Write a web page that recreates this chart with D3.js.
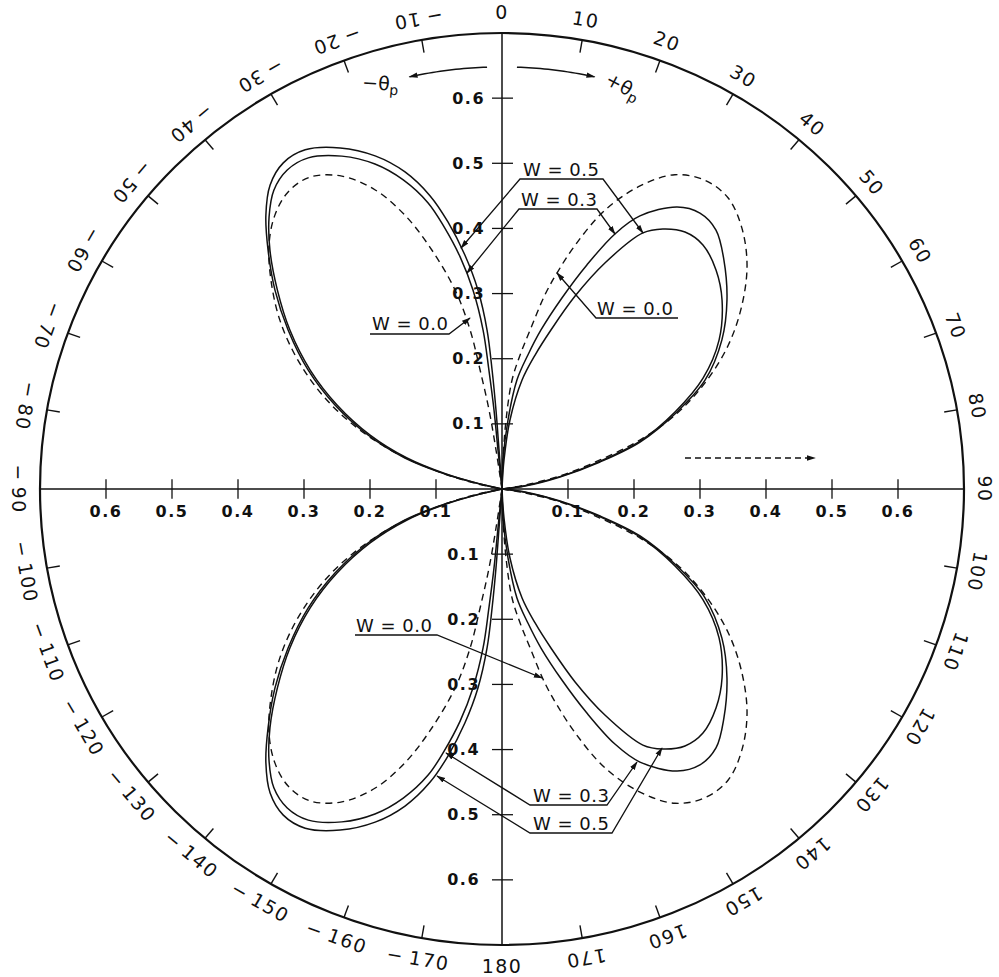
<!DOCTYPE html>
<html>
<head>
<meta charset="utf-8">
<script src="https://cdn.jsdelivr.net/npm/d3@7"></script>
<style>
  body { margin: 0; background: #fff; }
  text { font-family: "DejaVu Sans", sans-serif; fill: #111; }
</style>
</head>
<body>
<svg id="chart" width="999" height="977"></svg>
<script>
// Angular scale labels (degrees, clockwise from the top) and radial scale labels
const angleTicks = d3.range(-170, 190, 10);
const radialTicks = [0.1, 0.2, 0.3, 0.4, 0.5, 0.6];
const radialMax = 0.7;

// Lobes as [theta (deg), r] pairs; dashed = W 0.0, solid = W 0.3 and W 0.5
const upperLeftW00 = [[0,0],[-8.6,0.0605],[-9.2,0.1228],[-10.3,0.1857],[-11.2,0.2489],[-13.1,0.3137],[-16.4,0.3872],[-19.3,0.4455],[-22.7,0.4976],[-26.8,0.5381],[-31.3,0.5603],[-35.4,0.5594],[-39.3,0.5433],[-43.3,0.5148],[-47.5,0.4748],[-52.4,0.4248],[-57.4,0.3671],[-62.5,0.3023],[-67.2,0.2334],[-71.4,0.1631],[-74.9,0.0942],[-78.1,0.0372],[-84,0]];
const upperLeftW03 = [[0,0],[-5.8,0.0602],[-5.7,0.1218],[-6.2,0.1836],[-6.7,0.2457],[-8.2,0.3086],[-10.1,0.3619],[-12.3,0.4118],[-14.3,0.4532],[-17.5,0.4975],[-21.1,0.5347],[-25.4,0.5657],[-30,0.587],[-33.6,0.588],[-37,0.5744],[-40.2,0.5468],[-43.8,0.508],[-48.1,0.4572],[-52.8,0.4035],[-57.9,0.3428],[-62.7,0.2813],[-67.5,0.2163],[-71.7,0.1516],[-74.8,0.0878],[-77,0.0342],[-83,0]];
const upperLeftW05 = [[0,0],[-4.3,0.06],[-4.3,0.1216],[-4.7,0.1833],[-5.3,0.2451],[-6.8,0.3076],[-8.9,0.3636],[-11.3,0.418],[-13.6,0.4629],[-16.8,0.5084],[-20.6,0.5463],[-25.1,0.5781],[-29.8,0.6],[-33.5,0.6004],[-37,0.584],[-40.4,0.552],[-44,0.5103],[-48.4,0.46],[-53,0.4058],[-58.1,0.3461],[-63,0.284],[-67.8,0.2193],[-72.1,0.1545],[-75.1,0.0894],[-77,0.0342],[-83,0]];

const upperRightW00 = [[0,0],[1.9,0.0446],[3.3,0.1061],[5.2,0.168],[7.6,0.2075],[9.9,0.2477],[12.3,0.3049],[14.1,0.3418],[16.5,0.3905],[20,0.4553],[24.2,0.51],[28.5,0.549],[33,0.565],[37.5,0.563],[42.2,0.541],[47.2,0.506],[52.2,0.46],[57.2,0.408],[62.1,0.348],[66.6,0.286],[70.2,0.222],[73.3,0.155],[77.2,0.09],[80,0.0354],[90,0]];
const upperRightW03 = [[0,0],[1.9,0.0446],[4.9,0.1063],[7.7,0.1688],[10.8,0.2095],[13.6,0.2512],[17.2,0.307],[20.5,0.3672],[23.6,0.4273],[26.5,0.4684],[31.5,0.5077],[35.3,0.519],[39.2,0.513],[43.7,0.4866],[49.6,0.4476],[55.5,0.4043],[61.5,0.35],[66.1,0.2883],[71,0.2212],[74.4,0.1542],[78.1,0.0898],[82.6,0.0351],[90,0]];
const upperRightW05 = [[0,0],[3.9,0.0446],[6.5,0.1066],[10.3,0.17],[13.7,0.2117],[16.9,0.2551],[20.5,0.3162],[24.2,0.3804],[28.5,0.4473],[31.4,0.4677],[35.1,0.4822],[39.1,0.4828],[44,0.467],[49,0.4418],[55.2,0.4005],[60.8,0.349],[65.7,0.2876],[70.6,0.2217],[74,0.154],[77.8,0.0898],[81.6,0.035],[90,0]];

const lowerRightW00 = [[90,0],[100,0.0354],[102.8,0.09],[106.7,0.155],[109.8,0.222],[113.4,0.286],[117.9,0.348],[122.8,0.408],[127.8,0.46],[132.8,0.506],[137.8,0.541],[142.5,0.563],[147,0.565],[151.5,0.549],[155.8,0.51],[160,0.4553],[163.5,0.3905],[165.9,0.3418],[167.7,0.3049],[170.1,0.2477],[172.4,0.2075],[174.8,0.168],[176.7,0.1061],[178.1,0.0446],[180,0]];
const lowerRightW03 = [[90,0],[97.4,0.0351],[101.9,0.0898],[105.6,0.1542],[109,0.2212],[113.9,0.2883],[118.5,0.35],[124.5,0.4043],[130.4,0.4476],[136.3,0.4866],[140.8,0.513],[144.7,0.519],[148.5,0.5077],[153.5,0.4684],[156.4,0.4273],[159.5,0.3672],[162.8,0.307],[166.4,0.2512],[169.2,0.2095],[172.3,0.1688],[175.1,0.1063],[178.1,0.0446],[180,0]];
const lowerRightW05 = [[90,0],[98.4,0.035],[102.2,0.0898],[106,0.154],[109.4,0.2217],[114.3,0.2876],[119.2,0.349],[124.8,0.4005],[131,0.4418],[136,0.467],[140.9,0.4828],[144.9,0.4822],[148.6,0.4677],[151.5,0.4473],[155.8,0.3804],[159.5,0.3162],[163.1,0.2551],[166.3,0.2117],[169.7,0.17],[173.5,0.1066],[176.1,0.0446],[180,0]];

const lowerLeftW00 = [[-180,0],[-171.4,0.0605],[-170.8,0.1228],[-169.7,0.1857],[-168.8,0.2489],[-166.9,0.3137],[-163.6,0.3872],[-160.7,0.4455],[-157.3,0.4976],[-153.2,0.5381],[-148.7,0.5603],[-144.6,0.5594],[-140.7,0.5433],[-136.7,0.5148],[-132.5,0.4748],[-127.6,0.4248],[-122.6,0.3671],[-117.5,0.3023],[-112.8,0.2334],[-108.6,0.1631],[-105.1,0.0942],[-101.9,0.0372],[-96,0]];
const lowerLeftW03 = [[-180,0],[-174.2,0.0602],[-174.3,0.1218],[-173.8,0.1836],[-173.3,0.2457],[-171.8,0.3086],[-169.9,0.3619],[-167.7,0.4118],[-165.7,0.4532],[-162.5,0.4975],[-158.9,0.5347],[-154.6,0.5657],[-150,0.587],[-146.4,0.588],[-143,0.5744],[-139.8,0.5468],[-136.2,0.508],[-131.9,0.4572],[-127.2,0.4035],[-122.1,0.3428],[-117.3,0.2813],[-112.5,0.2163],[-108.3,0.1516],[-105.2,0.0878],[-103,0.0342],[-97,0]];
const lowerLeftW05 = [[-180,0],[-175.7,0.06],[-175.7,0.1216],[-175.3,0.1833],[-174.7,0.2451],[-173.2,0.3076],[-171.1,0.3636],[-168.7,0.418],[-166.4,0.4629],[-163.2,0.5084],[-159.4,0.5463],[-154.9,0.5781],[-150.2,0.6],[-146.5,0.6004],[-143,0.584],[-139.6,0.552],[-136,0.5103],[-131.6,0.46],[-127,0.4058],[-121.9,0.3461],[-117,0.284],[-112.2,0.2193],[-107.9,0.1545],[-104.9,0.0894],[-103,0.0342],[-97,0]];

const dashedLobes = [upperLeftW00, upperRightW00, lowerRightW00, lowerLeftW00];
const solidLobes = [upperLeftW03, upperLeftW05, upperRightW03, upperRightW05,
                    lowerRightW03, lowerRightW05, lowerLeftW03, lowerLeftW05];

const cx = 502, cy = 489, squashY = 0.987;
const r = d3.scaleLinear().domain([0, radialMax]).range([0, 462]);
const R = r(radialMax);
const rad = d => d * Math.PI / 180;
const px = (deg, rr) => [rr * Math.sin(rad(deg)), -rr * Math.cos(rad(deg))];

const svg = d3.select('#chart');
const defs = svg.append('defs');
defs.append('marker').attr('id', 'head')
  .attr('viewBox', '0 0 10 10').attr('refX', 9).attr('refY', 5)
  .attr('markerWidth', 9).attr('markerHeight', 9).attr('orient', 'auto-start-reverse')
  .attr('markerUnits', 'userSpaceOnUse')
  .append('path').attr('d', 'M0,2 L10,5 L0,8 Z').attr('fill', '#111');

const g = svg.append('g').attr('transform', `translate(${cx},${cy}) scale(1,${squashY})`);

// outer rim and axes
g.append('circle').attr('r', R).attr('fill', 'none').attr('stroke', '#111').attr('stroke-width', 2.2);
g.append('line').attr('x1', 0).attr('x2', 0).attr('y1', -R).attr('y2', R).attr('stroke', '#111').attr('stroke-width', 1.5);
g.append('line').attr('x1', -R).attr('x2', R).attr('y1', 0).attr('y2', 0).attr('stroke', '#111').attr('stroke-width', 1.5);

// angle ticks on the rim
g.selectAll('line.atick').data(angleTicks.filter(a => a % 90 !== 0))
  .join('line').attr('class', 'atick')
  .attr('x1', a => px(a, R - 13)[0]).attr('y1', a => px(a, R - 13)[1])
  .attr('x2', a => px(a, R)[0]).attr('y2', a => px(a, R)[1])
  .attr('stroke', '#111').attr('stroke-width', 1.4);

// angle labels: right half reads with tops outward, left half with tops inward
g.selectAll('text.alabel').data(angleTicks)
  .join('text').attr('class', 'alabel')
  .attr('transform', a => {
    const [x, y] = px(a, R + 21);
    const rot = (a >= 0 && a < 180) ? a : a + 180;
    return `translate(${x},${y}) rotate(${rot % 360})`;
  })
  .attr('text-anchor', 'middle').attr('dominant-baseline', 'central')
  .attr('font-size', 19).attr('letter-spacing', 1.5)
  .text(a => a < 0 ? '\u2212\u2009' + (-a) : String(a));

// radial ticks and labels on both axes
radialTicks.forEach(v => {
  [-1, 1].forEach(s => {
    const y = s * r(v);
    g.append('line').attr('x1', -10).attr('x2', 11).attr('y1', y).attr('y2', y)
      .attr('stroke', '#111').attr('stroke-width', 1.3);
    g.append('text').attr('x', s < 0 ? -17 : -22).attr('y', y)
      .attr('text-anchor', 'end').attr('dominant-baseline', 'central')
      .attr('font-size', 16).attr('font-weight', 'bold').attr('letter-spacing', 1.5)
      .text(v.toFixed(1));
    const x = s * r(v);
    g.append('line').attr('x1', x).attr('x2', x).attr('y1', -10).attr('y2', 10)
      .attr('stroke', '#111').attr('stroke-width', 1.3);
    g.append('text').attr('x', x).attr('y', 23)
      .attr('text-anchor', 'middle').attr('dominant-baseline', 'central')
      .attr('font-size', 16).attr('font-weight', 'bold').attr('letter-spacing', 1.5)
      .text(v.toFixed(1));
  });
});

// lobes
const lobe = d3.lineRadial().angle(d => rad(d[0])).radius(d => r(d[1])).curve(d3.curveCatmullRom.alpha(0.5));
g.selectAll('path.dashed').data(dashedLobes).join('path').attr('class', 'dashed')
  .attr('d', lobe).attr('fill', 'none').attr('stroke', '#111').attr('stroke-width', 1.4)
  .attr('stroke-dasharray', '7 5');
g.selectAll('path.solid').data(solidLobes).join('path').attr('class', 'solid')
  .attr('d', lobe).attr('fill', 'none').attr('stroke', '#111').attr('stroke-width', 1.5);

// direction arcs for +/- theta_p
[[-2, -12.5], [2, 12.5]].forEach(([a0, a1]) => {
  const pts = d3.range(0, 21).map(i => px(a0 + (a1 - a0) * i / 20, r(0.648)));
  g.append('path').attr('d', d3.line()(pts)).attr('fill', 'none')
    .attr('stroke', '#111').attr('stroke-width', 1.5).attr('marker-end', 'url(#head)');
});

// plain page-space annotations
const ann = svg.append('g');
const theta = (x, y, rot, sign) => {
  const t = ann.append('text').attr('transform', `translate(${x},${y}) rotate(${rot})`)
    .attr('text-anchor', 'middle').attr('font-size', 19);
  t.append('tspan').text(sign + '\u03b8');
  t.append('tspan').attr('font-size', 14).attr('dy', 4).text('p');
};
theta(380, 90, 4, '\u2212');
theta(620, 92, 28, '+');

const leader = (pts, arrowStart, arrowEnd) => {
  const p = ann.append('path').attr('d', d3.line()(pts)).attr('fill', 'none')
    .attr('stroke', '#111').attr('stroke-width', 1.3);
  if (arrowStart) p.attr('marker-start', 'url(#head)');
  if (arrowEnd) p.attr('marker-end', 'url(#head)');
};
const wLabel = (x, y, txt) => ann.append('text').attr('x', x).attr('y', y)
  .attr('font-size', 18).attr('letter-spacing', 0.5).text(txt);

// upper labels
wLabel(523, 176, 'W = 0.5');
leader([[461, 248], [520, 179], [603, 179], [643, 233]], true, true);
wLabel(521, 206, 'W = 0.3');
leader([[467, 273], [519, 209], [597, 209], [615, 234]], true, true);
wLabel(597, 315, 'W = 0.0');
leader([[557, 273], [596, 318], [678, 318]], true, false);
wLabel(372, 330, 'W = 0.0');
leader([[370, 334], [449, 334], [470, 318]], false, true);

// lower labels
wLabel(356, 632, 'W = 0.0');
leader([[355, 635], [437, 635], [542, 678]], false, true);
wLabel(533, 802, 'W = 0.3');
leader([[446, 753], [530, 805], [607, 805], [637, 762]], true, true);
wLabel(533, 830, 'W = 0.5');
leader([[437, 776], [530, 833], [612, 833], [662, 748]], true, true);

// direction of motion
ann.append('line').attr('x1', 685).attr('x2', 815).attr('y1', 458).attr('y2', 458)
  .attr('stroke', '#111').attr('stroke-width', 1.4).attr('stroke-dasharray', '6 4')
  .attr('marker-end', 'url(#head)');
</script>
</body>
</html>
